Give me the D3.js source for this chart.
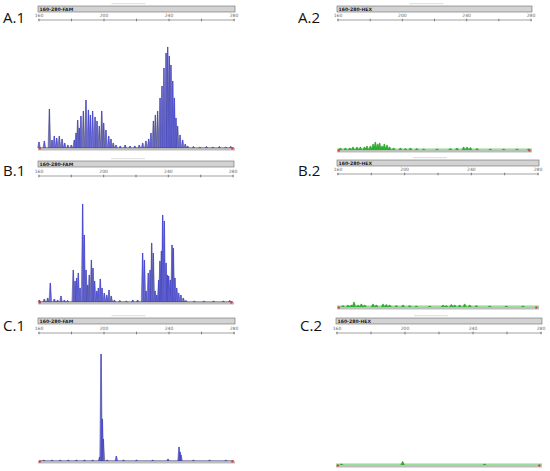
<!DOCTYPE html>
<html>
<head>
<meta charset="utf-8">
<script src="https://cdn.jsdelivr.net/npm/d3@7"></script>
<style>
  body { margin: 0; background: #fff; }
  svg { display: block; }
</style>
</head>
<body>
<div id="chart"></div>
<script>
// fragment size axis (bp)
const sizeTicks = [160, 180, 200, 220, 240, 260, 280];
const sizeLabels = [160, 200, 240, 280];

// A.1 FAM peaks: size (bp) and height
const a1Size = [160, 163.3, 166.4, 168, 169.4, 170.9, 172.5, 174.2, 175.8, 177.8, 179.9, 181.7,
  182.8, 183.8, 184.8, 185.8, 187.3, 188.9, 190.4, 191.6, 193, 194.5, 195.7, 197.1, 198.6, 199.8,
  201.2, 202.9, 204.3, 205.7, 207.4, 210, 213, 216, 219, 221.7, 223.8, 225.8, 227.5, 228.9, 230.4,
  231.6, 233, 234.5, 235.7, 236.9, 238.2, 239.2, 240.2, 241.2, 242.3, 243.3, 244.3, 245.3, 246.8,
  248.4, 250, 251.5, 255, 259, 263, 267, 271, 275, 278];
const a1Height = [6, 7, 39, 8, 12, 10, 12, 9, 5, 3, 3, 8,
  15, 28, 20, 32, 37, 48, 38, 33, 37, 31, 27, 22, 37, 25,
  18, 12, 9, 5, 3, 2, 3, 2, 2, 3, 5, 7, 9, 15, 27,
  33, 37, 50, 62, 80, 95, 101, 92, 83, 67, 50, 30, 22, 13,
  8, 4, 2, 1.5, 1, 1.5, 1, 1.5, 1, 1.5];

// B.1 FAM peaks
const b1Size = [160.2, 163.3, 165.4, 167, 169.5, 171.5, 173.6, 175.7, 177.7, 181.2, 182.3, 183.3,
  184.3, 185.4, 187, 188, 189.1, 190.1, 191.1, 192.4, 193.4, 194.4, 195.7, 196.7, 197.9, 199,
  200.4, 201.9, 203.3, 204.7, 206.6, 210, 214, 218, 221, 224.1, 225.2, 226.2, 227.6, 228.7, 229.7,
  230.7, 231.8, 232.8, 234, 234.8, 235.7, 236.5, 237.5, 238.6, 239.4, 240.2, 241.2, 242.3, 243.1,
  244.1, 245.2, 246.4, 247.8, 249.3, 250.9, 256, 262, 268, 274, 278];
const b1Height = [2, 3, 4, 19, 3, 2, 6, 2, 1.5, 32, 21, 24,
  29, 14, 98, 67, 32, 17, 27, 42, 34, 21, 11, 14, 23, 14,
  9, 7, 12, 6, 2, 1.5, 1, 2, 2, 49, 42, 11, 29, 32, 59,
  49, 11, 7, 22, 41, 51, 87, 81, 39, 27, 26, 22, 57, 54,
  24, 14, 9, 7, 4, 1.5, 1, 1, 1, 1, 1.5];

// C.1 FAM peaks
const c1Size = [163, 168, 173, 178, 183, 188, 193, 197.3, 198.2, 199, 199.6, 202, 207.6, 212,
  220, 230, 239.4, 246.2, 246.8, 247.4, 255, 265, 275];
const c1Height = [1, 1, 1, 1, 1, 1, 1, 4, 107, 42, 22, 1, 5, 1,
  1, 1, 2, 14, 9, 6, 1, 1, 1];

// A.2 HEX peaks
const a2Size = [161.5, 164.6, 167.3, 169.3, 171.8, 173.9, 176.4, 178, 180.1, 181.8, 183.2, 184.7,
  185.9, 187.4, 188.8, 190.5, 192.1, 194.6, 198.8, 201.9, 205, 209, 213.3, 221.6, 229.8, 234,
  238.1, 240.2, 242.3, 246.4, 254.7, 263, 271.3, 278.5];
const a2Height = [2, 2, 2, 3, 3, 3, 3, 4, 4, 6, 8, 6,
  7, 4, 6, 5, 3, 2, 2, 1.5, 2, 1.5, 1, 1, 1.5, 2,
  3, 3, 2.5, 1.5, 1, 1, 1, 1];

// B.2 HEX peaks
const b2Size = [163, 166, 168, 169.6, 172, 174, 176, 181, 183, 187, 189, 191, 195, 199, 203, 207,
  215, 223, 225, 228, 230, 233, 236, 239, 243, 251, 261, 271];
const b2Height = [1.5, 2, 2, 5, 2, 3, 2, 3, 2, 3, 2.5, 2, 1.5, 2, 1.5, 1,
  1, 2, 1.5, 2.5, 2, 2, 3, 2, 1.5, 1, 1, 1];

// C.2 HEX peaks
const c2Size = [162.6, 198.6, 246.8];
const c2Height = [1, 3.5, 1];

const panels = [
  { label: "A.1", dye: "FAM", sizes: a1Size, heights: a1Height, lx: 3, ly: 23, x0: 39, x1: 234, top: 6, axisY: 20, base: 148 },
  { label: "B.1", dye: "FAM", sizes: b1Size, heights: b1Height, lx: 3, ly: 176, x0: 39, x1: 233, top: 161, axisY: 176, base: 302 },
  { label: "C.1", dye: "FAM", sizes: c1Size, heights: c1Height, lx: 3, ly: 331, x0: 39, x1: 234, top: 318, axisY: 333, base: 461 },
  { label: "A.2", dye: "HEX", sizes: a2Size, heights: a2Height, lx: 298, ly: 23, x0: 338, x1: 531, top: 6, axisY: 20, base: 150 },
  { label: "B.2", dye: "HEX", sizes: b2Size, heights: b2Height, lx: 298, ly: 176, x0: 338, x1: 538, top: 160, axisY: 174, base: 307 },
  { label: "C.2", dye: "HEX", sizes: c2Size, heights: c2Height, lx: 300, ly: 331, x0: 337, x1: 541, top: 318, axisY: 333, base: 465 }
];

const svg = d3.select("#chart")
  .append("svg")
  .attr("width", 550)
  .attr("height", 471);

svg.append("rect").attr("width", 550).attr("height", 471).attr("fill", "#fff");

panels.forEach(p => {
  const g = svg.append("g");
  const x = d3.scaleLinear().domain([160, 280]).range([p.x0, p.x1]);
  const y = d3.scaleLinear().domain([0, 110]).range([p.base, p.base - 110]);
  const peaks = p.sizes.map((s, i) => ({ s, h: p.heights[i] }));

  // panel label
  g.append("text")
    .attr("x", p.lx).attr("y", p.ly)
    .attr("font-family", "'Open Sans', sans-serif")
    .attr("font-size", 15)
    .attr("fill", "#111")
    .text(p.label);

  // faint mark above the header
  const mid = (p.x0 + p.x1) / 2;
  g.append("rect")
    .attr("x", mid - 25).attr("y", p.top - 3)
    .attr("width", 34).attr("height", 1.2)
    .attr("fill", "#e2e2e2");

  // header bar with panel name
  g.append("rect")
    .attr("x", p.x0 - 1).attr("y", p.top)
    .attr("width", p.x1 - p.x0 + 2).attr("height", 6)
    .attr("fill", "#d3d3d3")
    .attr("stroke", "#6a6a6a")
    .attr("stroke-width", 0.6);
  g.append("text")
    .attr("x", p.x0 + 0.5).attr("y", p.top + 5)
    .attr("font-family", "'DejaVu Sans', sans-serif")
    .attr("font-size", 4.6)
    .attr("font-weight", "bold")
    .attr("fill", "#222")
    .text("160-280-" + p.dye);

  // size axis
  const axis = g.append("g").attr("transform", `translate(0,${p.axisY})`);
  axis.append("line")
    .attr("x1", p.x0 - 1).attr("x2", p.x1 + 1)
    .attr("stroke", "#7a7a7a").attr("stroke-width", 0.7);
  axis.selectAll(".tick")
    .data(sizeTicks)
    .enter().append("line")
    .attr("x1", d => x(d)).attr("x2", d => x(d))
    .attr("y1", -1.3).attr("y2", 1.3)
    .attr("stroke", "#555").attr("stroke-width", 0.7);
  axis.selectAll(".lab")
    .data(sizeLabels)
    .enter().append("text")
    .attr("x", d => x(d)).attr("y", -3.5)
    .attr("text-anchor", "middle")
    .attr("font-family", "'DejaVu Sans', sans-serif")
    .attr("font-size", 4.5)
    .attr("fill", "#666")
    .text(d => d);

  // baseline strip
  g.append("rect")
    .attr("x", p.x0 - 1).attr("y", p.base)
    .attr("width", p.x1 - p.x0 + 2).attr("height", 2.5)
    .attr("fill", "#bdbdbd");

  const line = d3.line().x(d => x(d[0])).y(d => y(d[1]));

  if (p.dye === "FAM") {
    // grey envelope of each peak
    g.selectAll(".env")
      .data(peaks)
      .enter().append("path")
      .attr("d", d => line([[d.s - 0.85, 0], [d.s - 0.1, d.h], [d.s + 0.1, d.h], [d.s + 0.85, 0]]))
      .attr("fill", "#a2a2b6")
      .attr("fill-opacity", 0.9)
      .attr("stroke", "#3c3c62")
      .attr("stroke-width", 0.45);
    // blue trace
    g.selectAll(".trace")
      .data(peaks)
      .enter().append("path")
      .attr("d", d => line([[d.s - 0.3, 0], [d.s, d.h], [d.s + 0.3, 0]]))
      .attr("fill", "none")
      .attr("stroke", "#3a3ae6")
      .attr("stroke-width", 0.55);
    g.append("line")
      .attr("x1", p.x0).attr("x2", p.x1)
      .attr("y1", p.base - 0.4).attr("y2", p.base - 0.4)
      .attr("stroke", "#4a4a8a").attr("stroke-width", 0.6);
  } else {
    // light green baseline band
    g.append("rect")
      .attr("x", p.x0 - 1).attr("y", p.base - 1.6)
      .attr("width", p.x1 - p.x0 + 2).attr("height", 1.8)
      .attr("fill", "#9fdc9f");
    g.selectAll(".hex")
      .data(peaks)
      .enter().append("path")
      .attr("d", d => line([[d.s - 1.1, 0], [d.s - 0.2, d.h], [d.s + 0.2, d.h], [d.s + 1.1, 0]]))
      .attr("fill", "#2fb32f")
      .attr("stroke", "#1e9a1e")
      .attr("stroke-width", 0.4);
  }

  // red end markers
  g.selectAll(".end")
    .data([160.5, 279])
    .enter().append("rect")
    .attr("x", d => x(d) - 1).attr("y", p.base - 0.5)
    .attr("width", 2).attr("height", 2)
    .attr("fill", "#e03030");
});
</script>
</body>
</html>
